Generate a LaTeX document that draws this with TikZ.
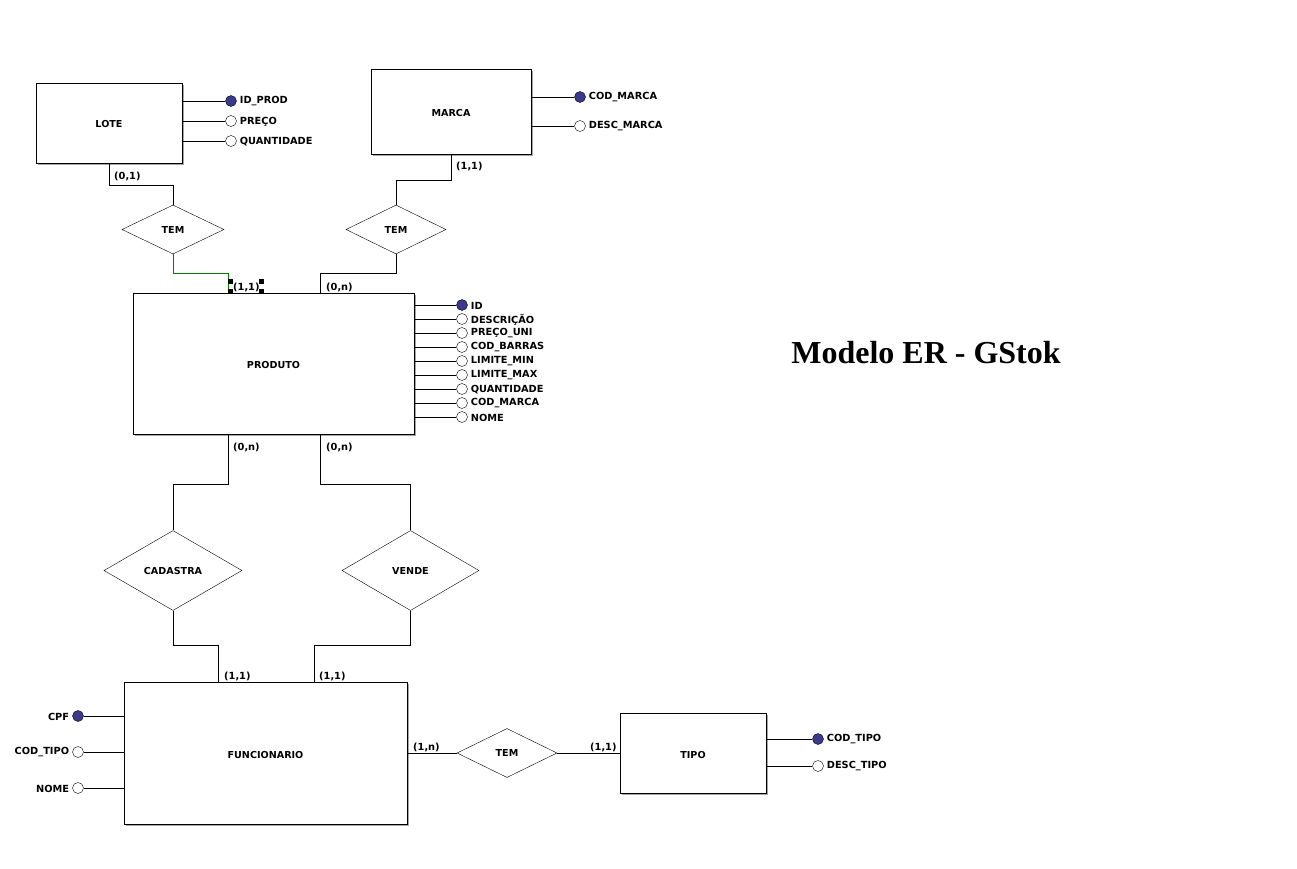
\documentclass[tikz,border=0pt]{standalone}
\usepackage{fontspec}
\setmainfont{DejaVu Sans}
\newfontfamily\titlefont{Liberation Serif}
\usetikzlibrary{shapes.geometric,calc,shadows}
\definecolor{pk}{RGB}{58,58,140}
\definecolor{sel}{RGB}{0,128,0}
\tikzset{
  ent/.style={draw,thick,fill=white,rectangle,inner sep=0pt,
    drop shadow={shadow xshift=2pt,shadow yshift=-2pt,fill=black!35,opacity=1},
    font=\bfseries\fontsize{9.6}{11}\selectfont,text height=10pt,text depth=0pt},
  rel/.style={draw,diamond,fill=white,inner sep=0pt,font=\bfseries\fontsize{9.6}{11}\selectfont},
  attr/.style={draw,circle,fill=white,minimum size=11pt,inner sep=0pt},
  key/.style={attr,fill=pk},
  txt/.style={font=\bfseries\fontsize{9.8}{11}\selectfont,inner sep=0pt},
  card/.style={txt,anchor=west},
  lnk/.style={draw,thin},
  handle/.style={fill=black,rectangle,minimum size=5pt,inner sep=0pt}
}
\begin{document}
\begin{tikzpicture}[x=1pt,y=-1pt]
\useasboundingbox (0,0) rectangle (1297,869);
% entities
\node[ent,minimum width=146pt,minimum height=80pt] (lote) at (109,123) {LOTE};
\node[ent,minimum width=160pt,minimum height=85pt] (marca) at (451,111.5) {MARCA};
\node[ent,minimum width=281pt,minimum height=141pt] (prod) at (273.5,363.5) {PRODUTO};
\node[ent,minimum width=283pt,minimum height=142pt] (func) at (265.5,753) {FUNCIONARIO};
\node[ent,minimum width=146pt,minimum height=80pt] (tipo) at (693,753) {TIPO};
% relationships
\node[rel,minimum width=102pt,minimum height=49pt] (tem1) at (173,229.5) {TEM};
\node[rel,minimum width=100pt,minimum height=49pt] (tem2) at (396,229.5) {TEM};
\node[rel,minimum width=138pt,minimum height=80pt] (cad) at (173,570.5) {CADASTRA};
\node[rel,minimum width=137pt,minimum height=80pt] (vende) at (410.5,570.5) {VENDE};
\node[rel,minimum width=100pt,minimum height=49pt] (tem3) at (507,753) {TEM};
% connectors
\draw[lnk] ($(lote.south west)+(74,0)$) -- ++(0,22) -| (tem1.north);
\draw[lnk,sel] (tem1.south) -- ++(0,19) -| ($(prod.north west)+(96,0)$);
\draw[lnk] ($(marca.south west)+(81,0)$) -- ++(0,26) -| (tem2.north);
\draw[lnk] (tem2.south) -- ++(0,19) -| ($(prod.north west)+(188,0)$);
\draw[lnk] ($(prod.south west)+(96,0)$) -- ++(0,50) -| (cad.north);
\draw[lnk] (cad.south) -- ++(0,34) -| ($(func.north west)+(95,0)$);
\draw[lnk] ($(prod.south west)+(188,0)$) -- ++(0,50) -| (vende.north);
\draw[lnk] (vende.south) -- ++(0,34) -| ($(func.north west)+(191,0)$);
\draw[lnk] (func.east) -- (tem3.west);
\draw[lnk] (tem3.east) -- (tipo.west);
% selection handles
\node[handle] (h1) at (230,281) {};
\node[handle] (h2) at (230,291.5) {};
\node[handle] (h3) at (261,281) {};
\node[handle] (h4) at (261,291.5) {};
% cardinalities
\node[card] (c1) at (114,176) {(0,1)};
\node[card] (c2) at (456,166) {(1,1)};
\node[card] (c3) at (233,287) {(1,1)};
\node[card] (c4) at (326,287) {(0,n)};
\node[card] (c5) at (233,447) {(0,n)};
\node[card] (c6) at (326,447) {(0,n)};
\node[card] (c7) at (224,676) {(1,1)};
\node[card] (c8) at (319,676) {(1,1)};
\node[card] (c9) at (413,747) {(1,n)};
\node[card] (c10) at (590,747) {(1,1)};
% LOTE attributes
\foreach \n/\y/\t/\s in {la1/101/ID\_PROD/key, la2/121/PREÇO/attr, la3/141/QUANTIDADE/attr}{
  \node[\s] (\n) at (231,\y) {};
  \draw[lnk] (lote.east |- \n) -- (\n);
  \node[txt,anchor=west] at ($(\n.east)+(3,0.5)$) {\t};
}
% MARCA attributes
\foreach \n/\y/\t/\s in {ma1/97/COD\_MARCA/key, ma2/126/DESC\_MARCA/attr}{
  \node[\s] (\n) at (580,\y) {};
  \draw[lnk] (marca.east |- \n) -- (\n);
  \node[txt,anchor=west] at ($(\n.east)+(3,0.5)$) {\t};
}
% PRODUTO attributes
\foreach \n/\y/\t/\s in {pa1/305/ID/key, pa2/319/DESCRIÇÃO/attr, pa3/333/PREÇO\_UNI/attr,
  pa4/347/COD\_BARRAS/attr, pa5/361/LIMITE\_MIN/attr, pa6/375/LIMITE\_MAX/attr,
  pa7/389/QUANTIDADE/attr, pa8/403/COD\_MARCA/attr, pa9/417/NOME/attr}{
  \node[\s] (\n) at (462,\y) {};
  \draw[lnk] (prod.east |- \n) -- (\n);
  \node[txt,anchor=west] at ($(\n.east)+(3,0.5)$) {\t};
}
% FUNCIONARIO attributes
\foreach \n/\y/\t/\s in {fa1/716/CPF/key, fa2/752/COD\_TIPO/attr, fa3/788/NOME/attr}{
  \node[\s] (\n) at (78,\y) {};
  \draw[lnk] (func.west |- \n) -- (\n);
  \node[txt,anchor=east] at ($(\n.west)+(-3,0.5)$) {\t};
}
% TIPO attributes
\foreach \n/\y/\t/\s in {ta1/739/COD\_TIPO/key, ta2/766/DESC\_TIPO/attr}{
  \node[\s] (\n) at (818,\y) {};
  \draw[lnk] (tipo.east |- \n) -- (\n);
  \node[txt,anchor=west] at ($(\n.east)+(3,0.5)$) {\t};
}
% title
\node[font=\titlefont\bfseries\fontsize{32}{36}\selectfont,inner sep=0pt] (title) at (926,353) {Modelo ER - GStok};
\end{tikzpicture}
\end{document}
